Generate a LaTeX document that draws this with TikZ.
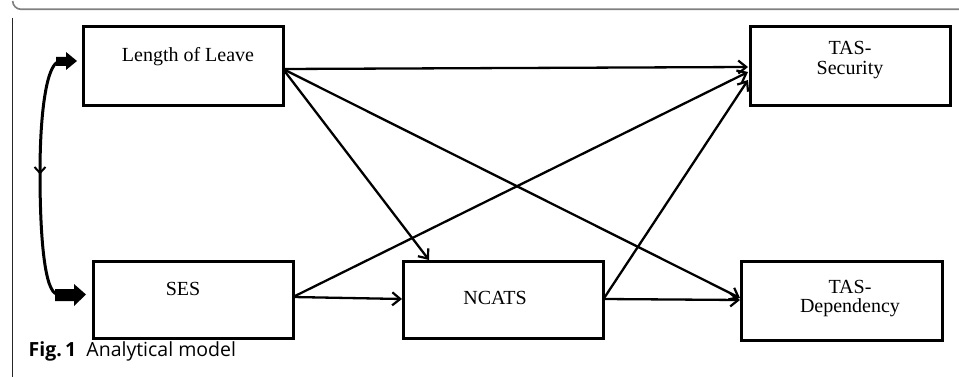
\documentclass[tikz,border=0pt]{standalone}
\usepackage{fontspec}
\setmainfont{Liberation Serif}
\newfontfamily\capfont{Open Sans}
\usetikzlibrary{arrows.meta,decorations.markings}
\tikzset{
  boxnode/.style={draw=black, line width=3pt, rectangle, inner sep=0pt},
  boxtext/.style={anchor=base, inner sep=0pt, font=\fontsize{20}{21}\selectfont, align=center},
  pathline/.style={line width=2.3pt, -{Straight Barb[length=8pt,width=13pt,line width=2.2pt]}},
  fatarrow/.style={fill=black, draw=none},
}
\begin{document}
\begin{tikzpicture}[x=1pt,y=-1pt]
\useasboundingbox (0,0) rectangle (959,377);
% frame
\draw[gray, line width=1.6pt] (959,9.3) -- (21,9.3) arc[start angle=90, end angle=180, radius=8.3];
\draw[black!85, line width=1.5pt] (12.7,17.6) -- (12.7,377);
% boxes
\node[boxnode, minimum width=200pt, minimum height=79pt] (lol) at (183,66.5) {};
\node[boxnode, minimum width=200pt, minimum height=77pt] (ses) at (193,299.5) {};
\node[boxnode, minimum width=200pt, minimum height=77pt] (ncats) at (503,299.5) {};
\node[boxnode, minimum width=200pt, minimum height=79pt] (tsec) at (850,66.5) {};
\node[boxnode, minimum width=201pt, minimum height=79pt] (tdep) at (841.5,300.5) {};
% texts
\node[boxtext] (lolt) at (188,62) {Length of Leave};
\node[boxtext] (sest) at (183,295) {SES};
\node[boxtext] (ncatst) at (495,304) {NCATS};
\node[boxtext] (tsect) at (850,75) {TAS-\\[-0.5pt]Security};
\node[boxtext] (tdept) at (850,312) {TAS-\\[-2pt]Dependency};
% connector anchors
\coordinate (lolo) at (283,69);
\coordinate (seso) at (293,297);
\coordinate (ncatso) at (603.5,299);
\coordinate (tsecA) at (748,67);
\coordinate (tsecB) at (748,72);
\coordinate (tsecC) at (748,80);
\coordinate (tdepA) at (740,298);
\coordinate (tdepB) at (740,300);
\coordinate (ncatsA) at (429,260);
\coordinate (ncatsB) at (402,299);
% arrows
\draw[pathline] (lolo) -- (tsecA);
\draw[pathline] (lolo) -- (ncatsA);
\draw[pathline] (lolo) -- (tdepA);
\draw[pathline] (seso) -- (tsecB);
\draw[pathline] (seso) -- (ncatsB);
\draw[pathline] (ncatso) -- (tsecC);
\draw[pathline] (ncatso) -- (tdepB);
% covariance curve
\coordinate (ctop) at (58,62);
\coordinate (cbot) at (57,294);
\draw[line width=3pt, postaction={decorate}, decoration={markings, mark=at position 0.485 with {\arrow{Straight Barb[length=6pt,width=11pt,line width=2pt]}}}]
  (ctop) .. controls (47,66) and (40,110) .. (40,173) .. controls (40,240) and (45,292) .. (cbot);
\fill[fatarrow] (56,57) -- (66,57) -- (66,52) -- (77,61) -- (66,70) -- (66,66) -- (56,66) -- cycle;
\fill[fatarrow] (55,289) -- (74,289) -- (74,284) -- (86,294.5) -- (74,306) -- (74,301) -- (55,301) -- cycle;
% caption
\node[anchor=base west, inner sep=0pt, font=\capfont\fontsize{19.5}{21}\selectfont] (cap) at (28.5,356) {\textbf{Fig.\,1}\ \ Analytical model};
\end{tikzpicture}
\end{document}
